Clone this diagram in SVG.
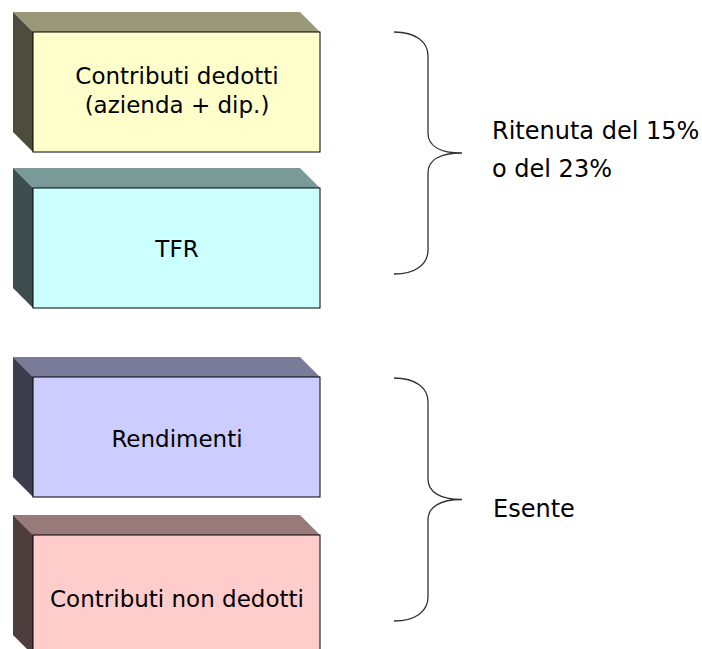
<svg xmlns="http://www.w3.org/2000/svg" width="702" height="649" viewBox="0 0 702 649">
<style>
.front{stroke:#000;stroke-width:1}
.lbl{font-family:"DejaVu Sans","Liberation Sans",sans-serif;font-size:23px;fill:#000;text-anchor:middle}
.rt{font-family:"DejaVu Sans","Liberation Sans",sans-serif;font-size:24px;fill:#000}
.brace{fill:none;stroke:#333;stroke-width:1.3}
</style>
<rect width="702" height="649" fill="#fff"/>
<g id="box-contributi-dedotti">
<polygon points="13,12 300,12 320,32 33,32" fill="#999979"/>
<polygon points="13,12 33,32 33,152 13,132" fill="#4d4d3d"/>
<rect class="front" x="33" y="32" width="287" height="120" fill="#ffffcc"/>
<text class="lbl" x="177" y="84">Contributi dedotti</text>
<text class="lbl" x="177" y="113">(azienda + dip.)</text>
</g>
<g id="box-tfr">
<polygon points="13,168 300,168 320,188 33,188" fill="#7a9999"/>
<polygon points="13,168 33,188 33,308 13,288" fill="#3d4d4d"/>
<rect class="front" x="33" y="188" width="287" height="120" fill="#ccffff"/>
<text class="lbl" x="177" y="257">TFR</text>
</g>
<g id="box-rendimenti">
<polygon points="13,357 300,357 320,377 33,377" fill="#7a7a99"/>
<polygon points="13,357 33,377 33,497 13,477" fill="#3d3d4d"/>
<rect class="front" x="33" y="377" width="287" height="120" fill="#ccccff"/>
<text class="lbl" x="177" y="447">Rendimenti</text>
</g>
<g id="box-contributi-non-dedotti">
<polygon points="13,515 300,515 320,535 33,535" fill="#997a7a"/>
<polygon points="13,515 33,535 33,655 13,635" fill="#4d3d3d"/>
<rect class="front" x="33" y="535" width="287" height="120" fill="#ffcccc"/>
<text class="lbl" x="177" y="607">Contributi non dedotti</text>
</g>
<g id="connectors">
<path class="brace" d="M394,32 C416,32 428,42 428,56 L428,133 C428,146 440,153 462,153 C440,153 428,160 428,173 L428,250 C428,264 416,274 394,274"/>
<path class="brace" d="M394,378 C416,378 428,388 428,402 L428,479 C428,492 440,499.5 462,499.5 C440,499.5 428,507 428,520 L428,597 C428,611 416,621 394,621"/>
</g>
<g id="label-ritenuta">
<text class="rt" x="492" y="139">Ritenuta del 15%</text>
<text class="rt" x="492" y="177">o del 23%</text>
</g>
<g id="label-esente">
<text class="rt" x="493" y="517">Esente</text>
</g>
</svg>
